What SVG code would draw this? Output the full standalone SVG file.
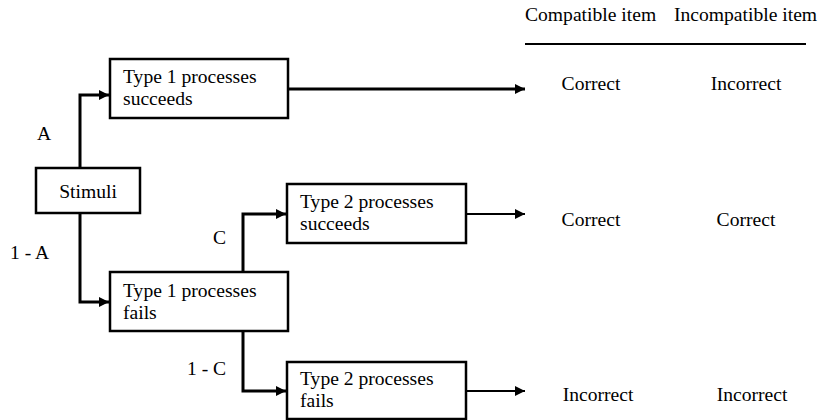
<svg xmlns="http://www.w3.org/2000/svg" width="823" height="420" viewBox="0 0 823 420">
<style>
text{font-family:"Liberation Serif","Times New Roman",serif;font-size:19.6px;fill:#000}
.box{fill:#fff;stroke:#000;stroke-width:2.5}
.c{fill:none;stroke:#000;stroke-width:3}
.t{fill:none;stroke:#000;stroke-width:2}
.m{text-anchor:middle}
</style>
<defs>
<marker id="ah" viewBox="0 0 10 10" refX="10" refY="5" markerWidth="10" markerHeight="10" markerUnits="userSpaceOnUse" orient="auto">
<path d="M0,0 L10,5 L0,10 Z" fill="#000"/>
</marker>
</defs>
<g id="connectors">
<path class="c" d="M80,168 V95 H109" marker-end="url(#ah)"/>
<path class="c" d="M80,213 V302 H109" marker-end="url(#ah)"/>
<path class="c" d="M243,272 V214 H286" marker-end="url(#ah)"/>
<path class="c" d="M243,331 V391 H286" marker-end="url(#ah)"/>
<path class="c" d="M288,89 H525" marker-end="url(#ah)"/>
<path class="t" d="M466,214 H525" marker-end="url(#ah)"/>
<path class="t" d="M466,391 H525" marker-end="url(#ah)"/>
</g>
<g id="stimuli">
<rect class="box" x="36" y="168" width="104" height="45"/>
<text x="88" y="198" class="m">Stimuli</text>
</g>
<g id="t1s">
<rect class="box" x="110" y="59" width="178" height="59"/>
<text x="123" y="83">Type 1 processes</text>
<text x="123" y="105">succeeds</text>
</g>
<g id="t1f">
<rect class="box" x="110" y="272" width="178" height="59"/>
<text x="123" y="297">Type 1 processes</text>
<text x="123" y="319">fails</text>
</g>
<g id="t2s">
<rect class="box" x="287" y="184" width="179" height="59"/>
<text x="300" y="208">Type 2 processes</text>
<text x="300" y="230">succeeds</text>
</g>
<g id="t2f">
<rect class="box" x="287" y="362" width="179" height="57"/>
<text x="300" y="385">Type 2 processes</text>
<text x="300" y="407">fails</text>
</g>
<g id="labels">
<text x="37" y="140">A</text>
<text x="10" y="259">1 - A</text>
<text x="213" y="244">C</text>
<text x="187" y="375">1 - C</text>
</g>
<g id="table">
<text x="525" y="21">Compatible item</text>
<text x="674" y="21">Incompatible item</text>
<line x1="525" y1="44" x2="806" y2="44" stroke="#000" stroke-width="2"/>
<text x="591" y="90" class="m">Correct</text>
<text x="746" y="90" class="m">Incorrect</text>
<text x="591" y="226" class="m">Correct</text>
<text x="746" y="226" class="m">Correct</text>
<text x="598" y="401" class="m">Incorrect</text>
<text x="752" y="401" class="m">Incorrect</text>
</g>
</svg>
